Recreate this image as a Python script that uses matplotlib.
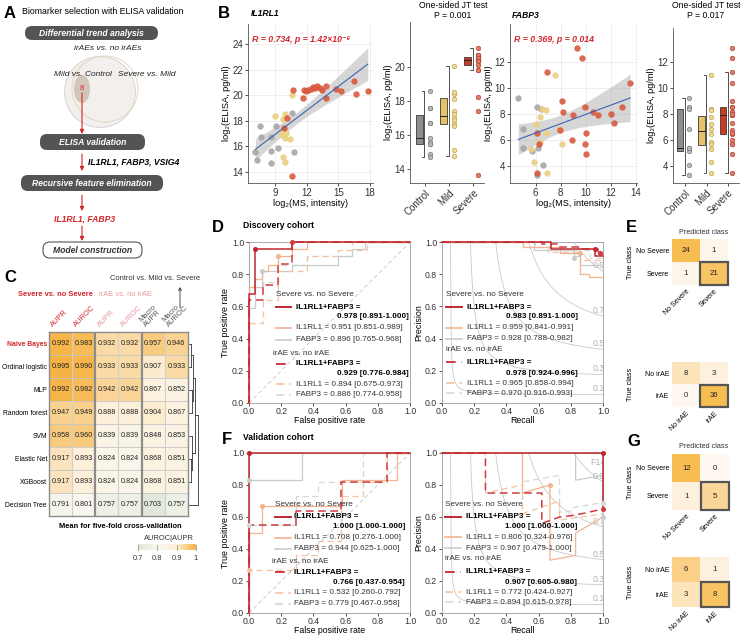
import numpy as np
import matplotlib
matplotlib.use("Agg")
import matplotlib.pyplot as plt
from matplotlib.patches import FancyBboxPatch, Circle, Ellipse, Rectangle
from matplotlib.colors import LinearSegmentedColormap
from matplotlib import cbook

plt.rcParams['font.family'] = ['Liberation Sans', 'DejaVu Sans']
plt.rcParams['axes.linewidth'] = 0.6
plt.rcParams['xtick.major.width'] = 0.6
plt.rcParams['ytick.major.width'] = 0.6
plt.rcParams['xtick.major.size'] = 2
plt.rcParams['ytick.major.size'] = 2
plt.rcParams['xtick.major.pad'] = 1.5
plt.rcParams['ytick.major.pad'] = 1.5

# ======================= DATA =======================
groups = ["Control", "Mild", "Severe"]

# Panel B - IL1RL1 (MS vs ELISA)
il1_ctrl_ms = [7.1, 7.3, 7.5, 7.6, 8.55, 8.6, 8.6, 9.1, 9.3, 10.6, 10.8]
il1_ctrl_el = [15.5, 14.9, 17.6, 16.7, 16.7, 15.6, 14.7, 17.6, 15.85, 18.6, 15.5]
il1_mild_ms = [9.0, 9.7, 9.9, 9.8, 10.05, 9.65, 9.9, 10.4, 9.7, 9.9, 10.6, 9.6]
il1_mild_el = [18.4, 18.1, 18.5, 17.4, 17.0, 16.85, 16.65, 16.55, 15.15, 14.75, 20.05, 17.2]
il1_sev_ms = [10.7, 10.1, 9.8, 10.6, 11.6, 11.74, 11.96, 12.12, 12.38, 12.6, 12.76,
              13.01, 13.24, 13.46, 13.78, 13.8, 14.8, 15.25, 16.45, 16.65, 17.8]
il1_sev_el = [20.4, 18.2, 17.4, 13.65, 19.8, 20.39, 20.31, 20.44, 20.52, 20.65, 20.57,
              20.7, 20.6, 20.39, 20.7, 19.8, 20.5, 20.3, 21.1, 20.1, 20.3]

# Panel B - FABP3
fab_ctrl_ms = [4.61, 4.96, 5.01, 5.68, 6.13, 6.21, 6.61, 6.13, 6.45]
fab_ctrl_el = [9.24, 6.83, 5.40, 5.17, 8.55, 5.35, 4.07, 3.30, 8.40]
fab_mild_ms = [6.0, 6.35, 6.53, 6.8, 6.83, 5.6, 5.89, 6.35, 6.88, 7.55, 8.08, 7.89]
fab_mild_el = [7.22, 7.73, 8.37, 8.29, 6.50, 5.30, 4.33, 5.86, 3.48, 10.98, 5.68, 6.81]
fab_sev_ms = [6.93, 9.33, 9.68, 8.13, 8.21, 9.01, 7.95, 8.88, 9.95, 10.0, 9.95, 10.0,
              10.61, 11.01, 12.03, 12.27, 12.93, 13.55, 6.13, 6.29, 6.13]
fab_sev_el = [11.23, 13.07, 12.31, 8.98, 8.16, 7.91, 6.76, 5.99, 8.55, 6.50, 5.68, 4.92,
              8.16, 7.91, 7.98, 7.27, 8.55, 10.39, 6.55, 5.68, 3.48]

il1_stat = "R = 0.734, p = 1.42×10⁻⁶"
fab_stat = "R = 0.369, p = 0.014"
il1_jt = ["P = 0.001", "7.20×10⁻⁵", "9.10×10⁻⁵", "0.190"]
fab_jt = ["P = 0.017", "0.065", "0.150", "0.560"]

# Panel C - heatmap
hm_rows = ["Naive Bayes", "Ordinal logistic", "MLP", "Random forest", "SVM",
           "Elastic Net", "XGBoost", "Decision Tree"]
hm_cols = ["AUPR", "AUROC", "AUPR", "AUROC", "Macro\nAUPR", "Macro\nAUROC"]
hm_vals = [[0.992, 0.983, 0.932, 0.932, 0.957, 0.946],
           [0.995, 0.990, 0.933, 0.933, 0.907, 0.933],
           [0.992, 0.982, 0.942, 0.942, 0.867, 0.852],
           [0.947, 0.949, 0.888, 0.888, 0.904, 0.867],
           [0.958, 0.960, 0.839, 0.839, 0.848, 0.853],
           [0.917, 0.893, 0.824, 0.824, 0.868, 0.851],
           [0.917, 0.893, 0.824, 0.824, 0.868, 0.851],
           [0.791, 0.801, 0.757, 0.757, 0.703, 0.757]]
cbar_ticks = [0.7, 0.8, 0.9, 1.0]
cbar_ticklabels = ["0.7", "0.8", "0.9", "1"]

# Panels D/F curves (x, y) step points
D_ROC = {
    "sev_fab": ([0, 0, .04, .04, .08, .08, .27, .27, .55, .55, .64, .64, .72, .72, 1],
                [0, .59, .59, .72, .72, .82, .82, .86, .86, .91, .91, .955, .955, 1, 1]),
    "sev_il1": ([0, 0, .04, .04, .08, .08, .12, .12, .18, .18, .27, .27, .36, .36, 1],
                [0, .72, .72, .77, .77, .82, .82, .86, .86, .91, .91, .955, .955, 1, 1]),
    "sev_combo": ([0, 0, .04, .04, .27, .27, 1], [0, .68, .68, .955, .955, 1, 1]),
    "ira_fab": ([0, 0, .09, .09, .18, .18, .36, .36, .55, .55, .64, .64, 1],
                [0, .72, .72, .75, .75, .86, .86, .91, .91, .95, .95, 1, 1]),
    "ira_il1": ([0, 0, .09, .09, .18, .18, .36, .36, .55, .55, .73, .73, 1],
                [0, .5, .5, .64, .64, .82, .82, .91, .91, .95, .95, 1, 1]),
    "ira_combo": ([0, 0, .09, .09, .18, .18, .27, .27, 1], [0, .64, .64, .73, .73, .865, .865, 1, 1]),
}
D_ROC_marks = {"sev_combo": (.04, .955), "sev_il1": (.18, .91), "sev_fab": (.08, .82), "ira_combo": (.27, 1.0)}
D_PR = {
    "sev_fab": ([0, .57, .57, .82, .82, .86, .86, 1.0], [1, 1, .95, .95, .91, .91, .86, .86]),
    "sev_il1": ([0, .5, .5, .73, .73, .86, .86, .91, .91, 1.0], [1, 1, .97, .97, .93, .93, .8, .8, .78, .78]),
    "sev_combo": ([0, .68, .68, .95, .95, 1.0], [1, 1, .955, .955, .915, .915]),
    "ira_fab": ([0, .58, .58, .75, .75, .92, .92, 1.0], [1, 1, .97, .97, .95, .95, .9, .9]),
    "ira_il1": ([0, .5, .5, .66, .66, .86, .86, 1.0], [1, 1, .97, .97, .94, .94, .89, .89]),
    "ira_combo": ([0, .62, .62, .72, .72, .86, .86, .97, .97, 1.0], [1, 1, .985, .985, .97, .97, .955, .955, .93, .93]),
}
D_PR_marks = {"sev_combo": (.95, .955), "ira_combo": (.98, .93), "sev_fab": (.82, .9), "sev_il1": (.86, .93)}
F_ROC = {
    "sev_fab": ([0, 0, .33, .33, 1], [0, .83, .83, 1, 1]),
    "sev_il1": ([0, 0, .08, .08, .58, .58, .92, .92, 1], [0, .5, .5, .67, .67, .83, .83, 1, 1]),
    "sev_combo": ([0, 0, 1], [0, 1, 1]),
    "ira_fab": ([0, 0, .29, .29, .43, .43, .71, .71, 1], [0, .55, .55, .73, .73, .82, .82, 1, 1]),
    "ira_il1": ([0, 0, .29, .29, .43, .43, .57, .57, .71, .71, .86, .86, 1],
                [0, .27, .27, .36, .36, .45, .45, .73, .73, .82, .82, 1, 1]),
    "ira_combo": ([0, 0, .29, .29, .57, .57, .86, .86, 1], [0, .55, .55, .64, .64, .82, .82, 1, 1]),
}
F_ROC_marks = {"sev_combo": (0, 1.0), "sev_il1": (.08, .67), "sev_fab": (0, .83), "ira_il1": (0, .27), "ira_fab": (0, .55)}
F_PR = {
    "sev_fab": ([0, .83, .83, 1.0, 1.0], [1, 1, .83, .86, .35]),
    "sev_il1": ([0, .5, .5, .67, .67, .83, .83, 1.0], [1, 1, .75, .8, .33, .36, .5, .6]),
    "sev_combo": ([0, 1, 1], [1, 1, .65]),
    "ira_fab": ([0, .5, .5, .73, .73, .82, .82, 1.0], [1, 1, .82, .86, .63, .64, .66, .69]),
    "ira_il1": ([0, .27, .27, .5, .5, .73, .73, 1.0], [1, 1, .75, .8, .62, .7, .58, .62]),
    "ira_combo": ([0, .27, .27, .62, .62, .73, .82, .91, 1.0], [1, 1, .75, .75, .56, .6, .61, .63, .65]),
}
F_PR_marks = {"sev_combo": (1, 1.0), "ira_combo": (1, .65), "sev_il1": (.67, .8), "ira_fab": (1, .69), "sev_fab": (1, .6)}

D_ROC_auc = ["0.978 [0.891-1.000]", "0.951 [0.851-0.989]", "0.896 [0.765-0.968]",
             "0.929 [0.776-0.984]", "0.894 [0.675-0.973]", "0.886 [0.774-0.958]"]
D_PR_auc = ["0.983 [0.891-1.000]", "0.959 [0.841-0.991]", "0.928 [0.788-0.982]",
            "0.978 [0.924-0.996]", "0.965 [0.858-0.994]", "0.970 [0.916-0.993]"]
F_ROC_auc = ["1.000 [1.000-1.000]", "0.708 [0.276-1.000]", "0.944 [0.625-1.000]",
             "0.766 [0.437-0.954]", "0.532 [0.260-0.792]", "0.779 [0.467-0.958]"]
F_PR_auc = ["1.000 [1.000-1.000]", "0.806 [0.324-0.976]", "0.967 [0.479-1.000]",
            "0.907 [0.605-0.980]", "0.772 [0.424-0.927]", "0.894 [0.615-0.978]"]

# Panels E/G confusion matrices
sev_labels = ["No Severe", "Severe"]
irae_labels = ["No irAE", "irAE"]
E_sev = [[24, 1], [1, 21]]
E_irae = [[8, 3], [0, 36]]
G_sev = [[12, 0], [1, 5]]
G_irae = [[6, 1], [3, 8]]

# ======================= FIGURE =======================
W, H = 740, 636
fig = plt.figure(figsize=(7.4, 6.36), dpi=100)
bg = fig.add_axes([0, 0, 1, 1])
bg.set_xlim(0, W); bg.set_ylim(H, 0); bg.axis('off')


def pax(x0, y0, x1, y1):
    return fig.add_axes([x0 / W, 1 - y1 / H, (x1 - x0) / W, (y1 - y0) / H])


def T(x, y, s, **kw):
    kw.setdefault('fontsize', 6)
    kw.setdefault('va', 'center')
    bg.text(x, y, s, **kw)


RED = '#d2262b'
# ---------- Panel letters ----------
for L, x, y in [("A", 4, 13), ("B", 218, 13), ("C", 4, 278), ("D", 212, 228),
                ("E", 626, 228), ("F", 222, 440), ("G", 627, 441)]:
    T(x, y, L, fontsize=12, fontweight='bold')

# ---------- Panel A flowchart ----------
T(22, 12, "Biomarker selection with ELISA validation", fontsize=6.3)


def dark_box(x0, y0, x1, y1, text, dark=True):
    if dark:
        p = FancyBboxPatch((x0, y0), x1 - x0, y1 - y0, boxstyle="round,pad=0,rounding_size=7",
                           fc='#545454', ec='none')
        col = 'white'
    else:
        p = FancyBboxPatch((x0, y0), x1 - x0, y1 - y0, boxstyle="round,pad=0,rounding_size=7",
                           fc='white', ec='#555555', lw=0.8)
        col = '#333333'
    bg.add_patch(p)
    T((x0 + x1) / 2, (y0 + y1) / 2 + 0.5, text, ha='center', color=col, fontsize=6.2,
      fontweight='bold', fontstyle='italic')


dark_box(25, 26, 158, 40, "Differential trend analysis")
T(108, 49, "irAEs vs. no irAEs", ha='center', fontstyle='italic', fontsize=6, color='#222')
bg.add_patch(Circle((100, 92), 35.5, fc='#f1eeec', ec='#d6d0cc', lw=0.7, alpha=0.9))
bg.add_patch(Circle((105, 89), 33, fc='none', ec='#e2d6c2', lw=0.7))
bg.add_patch(Ellipse((82, 89), 15, 27, fc='#cdbfb1', ec='#c8b6a4', lw=0.5, alpha=0.85))
T(83, 74, "Mild vs. Control", ha='center', fontstyle='italic', fontsize=6, color='#222')
T(147, 74, "Severe vs. Mild", ha='center', fontstyle='italic', fontsize=6, color='#222')
T(82, 88, "8", ha='center', color=RED, fontsize=5.5)


def red_arrow(x, y0, y1):
    bg.annotate('', xy=(x, y1), xytext=(x, y0),
                arrowprops=dict(arrowstyle='-|>', color=RED, lw=0.8, mutation_scale=6,
                                shrinkA=0, shrinkB=0))


red_arrow(82, 93, 134)
dark_box(40, 134, 145, 150, "ELISA validation")
red_arrow(82, 154, 171)
T(88, 162, "IL1RL1, FABP3, VSIG4", fontsize=6.2, fontweight='bold', fontstyle='italic')
dark_box(21, 175, 163, 191, "Recursive feature elimination")
red_arrow(82, 195, 211)
T(85, 219, "IL1RL1, FABP3", ha='center', fontsize=6.2, fontweight='bold', fontstyle='italic', color=RED)
red_arrow(82, 226, 241)
dark_box(43, 242, 142, 258, "Model construction", dark=False)

# ---------- Panel B ----------
C_CTRL, C_MILD, C_SEV = '#a6a6a6', '#eccf82', '#d95a40'
T(251, 14, "IL1RL1", fontsize=6.2, fontweight='bold', fontstyle='italic')
T(512, 15, "FABP3", fontsize=6.2, fontweight='bold', fontstyle='italic')


def scatter_panel(ax, xs_list, ys_list, stat, xlim, ylim, xt, yt):
    for xs, ys, c in zip(xs_list, ys_list, [C_CTRL, C_MILD, C_SEV]):
        ax.scatter(xs, ys, s=21, color=c, alpha=0.9, lw=0, zorder=3)
    x = np.concatenate([np.asarray(v, float) for v in xs_list])
    y = np.concatenate([np.asarray(v, float) for v in ys_list])
    b, a = np.polyfit(x, y, 1)
    xx = np.linspace(x.min(), x.max(), 100)
    yy = a + b * xx
    n = len(x)
    s = np.sqrt(np.sum((y - (a + b * x)) ** 2) / (n - 2))
    se = s * np.sqrt(1 / n + (xx - x.mean()) ** 2 / np.sum((x - x.mean()) ** 2))
    ax.fill_between(xx, yy - 2.02 * se, yy + 2.02 * se, color='#b5b5b5', alpha=0.55, lw=0, zorder=2)
    ax.plot(xx, yy, color='#3c63b4', lw=0.8, zorder=4)
    ax.set_xlim(*xlim); ax.set_ylim(*ylim)
    ax.set_xticks(xt); ax.set_yticks(yt)
    ax.grid(True, color='#e8e8e8', lw=0.5, zorder=0)
    ax.set_axisbelow(True)
    for sp in ['top', 'right']:
        ax.spines[sp].set_visible(False)
    for sp in ['left', 'bottom']:
        ax.spines[sp].set_color('#555555')
    ax.tick_params(labelsize=7, colors='#333333')
    ax.set_xlabel("log₂(MS, intensity)", fontsize=6.6, labelpad=1)
    ax.set_ylabel("log₂(ELISA, pg/ml)", fontsize=6.6, labelpad=1)
    ax.text(0.03, 0.905, stat, transform=ax.transAxes, color=RED, fontsize=6.3,
            fontweight='bold', fontstyle='italic', va='center')


ax_s1 = pax(248, 24, 373, 183)
scatter_panel(ax_s1, [il1_ctrl_ms, il1_mild_ms, il1_sev_ms], [il1_ctrl_el, il1_mild_el, il1_sev_el],
              il1_stat, (6.4, 18.3), (13.1, 25.6), [9, 12, 15, 18], [14, 16, 18, 20, 22, 24])
ax_s2 = pax(510, 24, 637, 183)
scatter_panel(ax_s2, [fab_ctrl_ms, fab_mild_ms, fab_sev_ms], [fab_ctrl_el, fab_mild_el, fab_sev_el],
              fab_stat, (3.95, 14.1), (2.7, 14.9), [6, 8, 10, 12, 14], [4, 6, 8, 10, 12])


def box_panel(ax, data, ylim, yt, xlim):
    fills = ['#8e8e8e', '#e7c266', '#c93a22']
    pfc = ['#b8b8b8', '#f0d890', '#e07a68']
    pec = ['#6e6e6e', '#b89a48', '#a83a2a']
    stats = cbook.boxplot_stats([np.asarray(d, float) for d in data], whis=1.5)
    for i, (st, d) in enumerate(zip(stats, data)):
        bx = i - 0.24
        ax.add_patch(Rectangle((bx - 0.15, st['q1']), 0.3, st['q3'] - st['q1'], fc=fills[i],
                               ec='#3a3a3a', lw=0.6, zorder=2))
        ax.plot([bx - 0.15, bx + 0.15], [st['med']] * 2, color='#222222', lw=0.7, zorder=3)
        wx = i - 0.02
        ax.plot([wx - 0.1, wx, wx, wx - 0.1], [st['whislo'], st['whislo'], st['whishi'], st['whishi']],
                color='#333333', lw=0.6, zorder=2)
        ax.scatter(np.full(len(d), i + 0.2), d, s=11, fc=pfc[i], ec=pec[i], lw=0.4, zorder=4)
    ax.set_xlim(*xlim); ax.set_ylim(*ylim)
    ax.set_yticks(yt)
    ax.set_xticks([0, 1, 2])
    ax.set_xticklabels(groups, rotation=45, ha='right', rotation_mode='anchor', fontsize=6.6)
    for sp in ['top', 'right']:
        ax.spines[sp].set_visible(False)
    for sp in ['left', 'bottom']:
        ax.spines[sp].set_color('#555555')
    ax.tick_params(labelsize=7, colors='#333333')
    ax.set_ylabel("log₂(ELISA, pg/ml)", fontsize=6.6, labelpad=1)


ax_b1 = pax(410, 22, 484, 183)
box_panel(ax_b1, [il1_ctrl_el, il1_mild_el, il1_sev_el], (13.2, 22.6), [14, 16, 18, 20], (-0.62, 2.45))
ax_b2 = pax(673, 28, 740, 183)
box_panel(ax_b2, [fab_ctrl_el, fab_mild_el, fab_sev_el], (2.7, 14.6), [4, 6, 8, 10, 12], (-0.56, 2.56))

T(453, 5, "One-sided JT test", ha='center', fontsize=6.2)
T(453, 15, il1_jt[0], ha='center', fontsize=6.2)
T(448, 29, il1_jt[1], ha='center', fontsize=6, color=RED, fontweight='bold', fontstyle='italic')
T(466, 42, il1_jt[2], ha='center', fontsize=6, color=RED, fontweight='bold', fontstyle='italic')
T(427, 53, il1_jt[3], ha='center', fontsize=6.2, fontstyle='italic')
T(706, 5, "One-sided JT test", ha='center', fontsize=6.2)
T(706, 15, fab_jt[0], ha='center', fontsize=6.2)
T(706, 32, fab_jt[1], ha='center', fontsize=6.2, fontweight='bold', fontstyle='italic')
T(719, 44, fab_jt[2], ha='center', fontsize=6.2, fontstyle='italic')
T(692, 56, fab_jt[3], ha='center', fontsize=6.2, fontstyle='italic')

# ---------- Panel C ----------
PINK = '#e8979d'
T(155, 278, "Control vs. Mild vs. Severe", ha='center', fontsize=5.4, color='#333333')
bg.annotate('', xy=(180, 287), xytext=(180, 308),
            arrowprops=dict(arrowstyle='->', color='#333333', lw=0.6, mutation_scale=5, shrinkA=0, shrinkB=0))
T(55, 295, "Severe vs. no Severe", ha='center', fontsize=5.4, color=RED, fontweight='bold')
T(125, 295, "irAE vs. no irAE", ha='center', fontsize=5.4, color=PINK)

hm = np.array(hm_vals)
hm_cmap = LinearSegmentedColormap.from_list('hm', [(0, '#e1e8d9'), (1 / 3, '#f8f7ef'),
                                                    (2 / 3, '#fdf0d9'), (1, '#f6b13e')])
HX0, HX1, HY0, HY1 = 49, 188, 332, 516
axh = pax(HX0, HY0, HX1, HY1)
axh.imshow(hm, cmap=hm_cmap, vmin=0.7, vmax=1.0, aspect='auto')
for i in range(hm.shape[0]):
    for j in range(hm.shape[1]):
        axh.text(j, i, f"{hm[i, j]:.3f}", ha='center', va='center', fontsize=5.2, color='#222222')
for i in range(1, hm.shape[0]):
    axh.axhline(i - 0.5, color='#c4c4c4', lw=0.6)
for j in [0.5, 2.5, 4.5]:
    axh.axvline(j, color='#cfcfcf', lw=0.8)
for j in [1.5, 3.5]:
    axh.axvline(j, color='#8c8c8c', lw=1.6)
for sp in axh.spines.values():
    sp.set_color('#8c8c8c'); sp.set_linewidth(1.0)
axh.set_xticks([])
axh.set_yticks(range(len(hm_rows)))
axh.set_yticklabels(hm_rows, fontsize=4.9)
axh.tick_params(length=0, pad=1.5)
for k, tl in enumerate(axh.get_yticklabels()):
    if k == 0:
        tl.set_color(RED); tl.set_fontweight('bold')
cw = (HX1 - HX0) / 6
col_colors = [RED, RED, PINK, PINK, '#555555', '#555555']
for j, (lab, c) in enumerate(zip(hm_cols, col_colors)):
    cx = HX0 + cw * (j + 0.5)
    bg.text(cx - 6, 328, lab, rotation=45, ha='left', va='bottom', rotation_mode='anchor',
            fontsize=5.4, color=c, linespacing=1.0)

# dendrogram
rh = (HY1 - HY0) / 8
ry = [HY0 + rh * (i + 0.5) for i in range(8)]


def leaf(i):
    return (ry[i], 189.0)


def merge(a, b, h):
    bg.plot([a[1], h], [a[0], a[0]], color='#333333', lw=0.6)
    bg.plot([b[1], h], [b[0], b[0]], color='#333333', lw=0.6)
    bg.plot([h, h], [a[0], b[0]], color='#333333', lw=0.6)
    return ((a[0] + b[0]) / 2, h)


n01 = merge(leaf(0), leaf(1), 191.3)
n23 = merge(leaf(2), leaf(3), 191.8)
top = merge(n01, n23, 193.0)
n56 = merge(leaf(5), leaf(6), 190.8)
mid = merge(leaf(4), n56, 192.3)
tm = merge(top, mid, 194.5)
merge(tm, leaf(7), 197.5)

T(120, 527, "Mean for five-fold cross-validation", ha='center', fontsize=5.4, fontweight='bold')
T(169, 539, "AUROC|AUPR", ha='center', fontsize=5.4, color='#333333')
axc = pax(138, 544, 196, 550)
grad = np.linspace(0.7, 1.0, 200)[None, :]
axc.imshow(grad, cmap=hm_cmap, vmin=0.7, vmax=1.0, aspect='auto', extent=(0.7, 1.0, 0, 1))
for t in cbar_ticks:
    axc.plot([t, t], [0, 1], color='#444444', lw=0.6, ls=(0, (1.2, 1.2)), clip_on=False)
axc.set_xlim(0.7, 1.0); axc.set_ylim(0, 1)
axc.axis('off')
for t, lab in zip(cbar_ticks, cbar_ticklabels):
    T(138 + (t - 0.7) / 0.3 * 58, 558, lab, ha='center', fontsize=5.4, color='#333333')

# ---------- Panels D / F ----------
T(243, 225, "Discovery cohort", fontsize=6.2, fontweight='bold')
T(243, 437, "Validation cohort", fontsize=6.2, fontweight='bold')
DASH = (0, (5, 3))
STY = {"sev_combo": ('#c0272d', '-', 1.1), "sev_il1": ('#f2b38f', '-', 0.9),
       "sev_fab": ('#c5cece', '-', 0.9), "ira_combo": ('#d03a40', DASH, 1.1),
       "ira_il1": ('#f5c3a4', DASH, 0.9), "ira_fab": ('#d3d9d9', DASH, 0.9)}
ORDER = ["ira_fab", "sev_fab", "ira_il1", "sev_il1", "ira_combo", "sev_combo"]


def style_axes(ax, xlabel, ylabel):
    ax.set_xlim(0, 1); ax.set_ylim(0, 1)
    ax.set_xticks(np.linspace(0, 1, 6)); ax.set_yticks(np.linspace(0, 1, 6))
    ax.tick_params(labelsize=6.3, colors='#333333')
    ax.tick_params(axis='x', pad=1)
    for sp in ax.spines.values():
        sp.set_color('#9a9a9a')
    ax.set_xlabel(xlabel, fontsize=6.3, labelpad=0)
    ax.set_ylabel(ylabel, fontsize=6.4, labelpad=1)


def draw_curves(ax, curves, marks):
    for key in ORDER:
        c, ls, lw = STY[key]
        xs, ys = curves[key]
        ax.plot(xs, ys, color=c, ls=ls, lw=lw, zorder=3, clip_on=False)
    for key, (mx, my) in marks.items():
        ax.plot([mx], [my], 'o', ms=2.6, color=STY[key][0], zorder=5, clip_on=False)


def curve_legend(ax, x_title, xh0, xh1, xt, xr, ys, aucs):
    fs = 5.9
    k = 0
    for g, title in enumerate(["Severe vs. no Severe", "irAE vs. no irAE"]):
        pre = "sev" if g == 0 else "ira"
        ax.text(x_title[g], ys[k], title, fontsize=fs, va='center', ha='left',
                transform=ax.transAxes, color='#333333', zorder=6)
        k += 1
        for n_i, nm in enumerate(["combo", "il1", "fab"]):
            c, ls, lw = STY[f"{pre}_{nm}"]
            ax.plot([xh0, xh1], [ys[k]] * 2, color=c, ls=ls, lw=lw + 0.3,
                    transform=ax.transAxes, clip_on=False, zorder=6)
            if nm == "combo":
                ax.text(xt, ys[k], "IL1RL1+FABP3 =", fontsize=fs, fontweight='bold', va='center',
                        transform=ax.transAxes, zorder=6)
                k += 1
                ax.text(xr, ys[k], aucs[g * 3], fontsize=fs, fontweight='bold', va='center',
                        ha='right', transform=ax.transAxes, zorder=6)
            else:
                lab = ("IL1RL1" if nm == "il1" else "FABP3") + " = " + aucs[g * 3 + n_i]
                ax.text(xt, ys[k], lab, fontsize=fs, va='center', transform=ax.transAxes,
                        color='#333333', zorder=6)
            k += 1


def iso_f1(ax, show_f1):
    for f in [0.1, 0.3, 0.5, 0.7, 0.9]:
        r = np.linspace(f / (2 - f), 1, 200)
        p = f * r / (2 * r - f)
        ax.plot(r, p, color='#c9c9c9', lw=0.6, zorder=1)
        ax.text(0.935, f / (2 - f) + 0.035, f"{f:.1f}", color='#b3b3b3', fontsize=6.3,
                va='center', clip_on=True, zorder=1)
    if show_f1:
        ax.text(0.92, 0.94, "F1=", color='#b3b3b3', fontsize=6.3, va='center', clip_on=True)


# D
axd1 = pax(249, 242, 410, 403)
axd1.plot([0, 1], [0, 1], color='#cccccc', lw=0.7, ls=(0, (4, 3)), zorder=1)
draw_curves(axd1, D_ROC, D_ROC_marks)
style_axes(axd1, "False positive rate", "True positive rate")
curve_legend(axd1, [0.166, 0.15], 0.166, 0.263, 0.29, 0.99,
             [0.673, 0.594, 0.538, 0.466, 0.393, 0.31, 0.244, 0.182, 0.118, 0.052], D_ROC_auc)

axd2 = pax(442, 242, 603, 403)
iso_f1(axd2, False)
draw_curves(axd2, D_PR, D_PR_marks)
style_axes(axd2, "Recall", "Precision")
curve_legend(axd2, [0.025, 0.025], 0.025, 0.124, 0.155, 0.843,
             [0.673, 0.594, 0.538, 0.466, 0.398, 0.331, 0.253, 0.186, 0.124, 0.062], D_PR_auc)

# F
axf1 = pax(249, 453, 410, 613)
axf1.plot([0, 1], [0, 1], color='#cccccc', lw=0.7, ls=(0, (4, 3)), zorder=1)
draw_curves(axf1, F_ROC, F_ROC_marks)
style_axes(axf1, "False positive rate", "True positive rate")
curve_legend(axf1, [0.16, 0.145], 0.16, 0.258, 0.282, 0.97,
             [0.68, 0.6, 0.54, 0.47, 0.40, 0.32, 0.255, 0.19, 0.127, 0.058], F_ROC_auc)

axf2 = pax(442, 453, 603, 613)
iso_f1(axf2, True)
draw_curves(axf2, F_PR, F_PR_marks)
style_axes(axf2, "Recall", "Precision")
curve_legend(axf2, [0.02, 0.02], 0.02, 0.12, 0.15, 0.84,
             [0.68, 0.6, 0.54, 0.472, 0.404, 0.338, 0.259, 0.193, 0.13, 0.068], F_PR_auc)

# ---------- Panels E / G ----------
cm_cmap = LinearSegmentedColormap.from_list('cm', ['#fef8f0', '#f8bd52'])


def cm_panel(box, mat, labels):
    x0, y0, x1, y1 = box
    ax = pax(x0, y0, x1, y1)
    m = np.array(mat, float)
    ax.imshow(m / m.sum(), cmap=cm_cmap, vmin=0, vmax=0.5, aspect='auto')
    for i in range(2):
        for j in range(2):
            ax.text(j, i, str(int(m[i, j])), ha='center', va='center', fontsize=5.6, color='#222222')
    ax.add_patch(Rectangle((0.5, 0.5), 1, 1, fill=False, ec='#555555', lw=1.6, clip_on=False))
    ax.set_xticks([0, 1])
    ax.set_xticklabels(labels, rotation=45, ha='right', rotation_mode='anchor', fontsize=5.0)
    ax.set_yticks([0, 1])
    ax.set_yticklabels(labels, fontsize=5.0)
    ax.tick_params(length=0, pad=2)
    for sp in ax.spines.values():
        sp.set_visible(False)
    T(630, (y0 + y1) / 2, "True class", rotation=90, ha='center', fontsize=5.2)


T(704, 232, "Predicted class", ha='center', fontsize=5.2, color='#333333')
cm_panel((672, 239, 728, 285), E_sev, sev_labels)
cm_panel((672, 362, 728, 407), E_irae, irae_labels)
T(704, 447, "Predicted class", ha='center', fontsize=5.2, color='#333333')
cm_panel((672, 454, 729, 510), G_sev, sev_labels)
cm_panel((672, 557, 729, 607), G_irae, irae_labels)

fig.savefig("out.png", dpi=100)
